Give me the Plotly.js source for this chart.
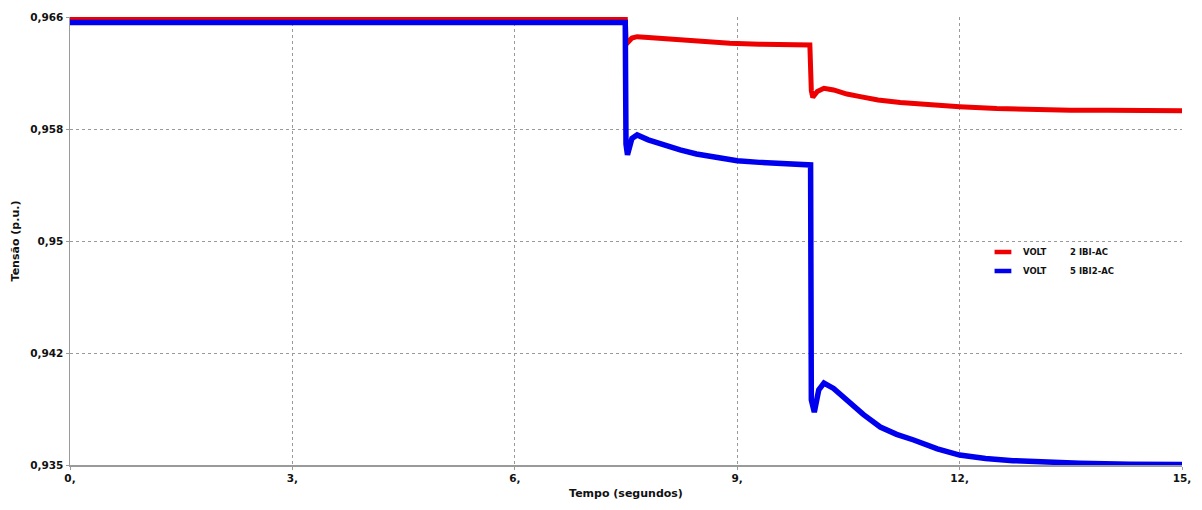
<!DOCTYPE html>
<html>
<head>
<meta charset="utf-8">
<script src="https://cdn.plot.ly/plotly-3.0.1.min.js"></script>
<style>html,body{margin:0;padding:0;background:#fff;}#chart{width:1202px;height:510px;}</style>
</head>
<body>
<div id="chart"></div>
<script>
// Time (s) and voltage (p.u.)
const redT = [0, 7.49, 7.5, 7.52, 7.58, 7.65, 7.8, 8.0, 8.23, 8.5, 8.9, 9.3, 9.7, 9.98, 10.0, 10.02, 10.08, 10.17, 10.3, 10.48, 10.66, 10.9, 11.2, 11.5, 12.0, 12.5, 13.08, 13.5, 14.0, 14.5, 15.0];
const redV = [0.96596, 0.96596, 0.96440, 0.96422, 0.96455, 0.96464, 0.96458, 0.96450, 0.96441, 0.96430, 0.96418, 0.96412, 0.96408, 0.96406, 0.96090, 0.96044, 0.96085, 0.96107, 0.96095, 0.96067, 0.96049, 0.96026, 0.96008, 0.95995, 0.95979, 0.95966, 0.95958, 0.95955, 0.95954, 0.95953, 0.95952];
const blueT = [0, 7.49, 7.5, 7.52, 7.58, 7.65, 7.8, 8.0, 8.23, 8.45, 8.68, 9.0, 9.3, 9.58, 9.99, 10.0, 10.04, 10.1, 10.17, 10.3, 10.48, 10.7, 10.93, 11.15, 11.38, 11.7, 12.0, 12.35, 12.72, 13.2, 13.62, 14.3, 15.0];
const blueV = [0.96562, 0.96562, 0.95720, 0.95646, 0.95760, 0.95784, 0.95750, 0.95715, 0.95680, 0.95652, 0.95631, 0.95605, 0.95594, 0.95588, 0.95576, 0.93950, 0.93866, 0.94020, 0.94067, 0.94030, 0.93950, 0.93850, 0.93763, 0.93712, 0.93673, 0.93612, 0.93569, 0.93545, 0.93530, 0.93518, 0.93512, 0.93506, 0.93503];
const redName = "VOLT\u00a0\u00a0\u00a0\u00a0\u00a0\u00a0\u00a0\u00a02 IBI-AC";
const blueName = "VOLT\u00a0\u00a0\u00a0\u00a0\u00a0\u00a0\u00a0\u00a05 IBI2-AC";
const redColor = '#ee0000';
const blueColor = '#0000ee';
const xTickVals = [0, 3, 6, 9, 12, 15];
const xTickText = ["0,", "3,", "6,", "9,", "12,", "15,"];
const yTickVals = [0.935, 0.94275, 0.9505, 0.95825, 0.966];
const yTickText = ["0,935", "0,942", "0,95", "0,958", "0,966"];

const fam = 'DejaVu Sans, sans-serif';
function f(size) { return {family: fam, size: size, color: '#111', weight: 'bold'}; }

const traces = [
  {x: redT, y: redV, name: redName, type: 'scatter', mode: 'lines', showlegend: false,
   line: {color: redColor, width: 5}},
  {x: blueT, y: blueV, name: blueName, type: 'scatter', mode: 'lines', showlegend: false,
   line: {color: blueColor, width: 5.5}},
  // legend-only entries (short line symbol like the reference)
  {x: [null], y: [null], name: redName, type: 'scatter', mode: 'markers', showlegend: true,
   marker: {symbol: 'line-ew', size: 12, color: redColor, line: {color: redColor, width: 4.5}}},
  {x: [null], y: [null], name: blueName, type: 'scatter', mode: 'markers', showlegend: true,
   marker: {symbol: 'line-ew', size: 12, color: blueColor, line: {color: blueColor, width: 4.5}}}
];

const layout = {
  width: 1202, height: 510,
  margin: {l: 70, r: 20, t: 17, b: 45},
  paper_bgcolor: '#fff', plot_bgcolor: '#fff',
  showlegend: true,
  legend: {x: 0.821, y: 0.508, xanchor: 'left', yanchor: 'top', bgcolor: 'rgba(0,0,0,0)',
           font: f(8.5), tracegroupgap: 0},
  xaxis: {
    range: [0, 15], tickvals: xTickVals, ticktext: xTickText,
    showgrid: true, gridcolor: '#9a9a9a', griddash: 'dot', gridwidth: 1,
    showline: true, linecolor: '#9a9a9a', linewidth: 1.5,
    ticks: 'outside', ticklen: 3, tickcolor: '#9a9a9a',
    zeroline: false, tickfont: f(10.5),
    title: {text: 'Tempo (segundos)', font: f(11), standoff: 6}
  },
  yaxis: {
    range: [0.935, 0.966], tickvals: yTickVals, ticktext: yTickText,
    showgrid: true, gridcolor: '#9a9a9a', griddash: 'dot', gridwidth: 1,
    showline: true, linecolor: '#9a9a9a', linewidth: 1.5,
    ticks: 'outside', ticklen: 3, tickcolor: '#9a9a9a',
    zeroline: false, tickfont: f(10.5),
    title: {text: 'Tensão (p.u.)', font: f(11), standoff: 8}
  }
};

Plotly.newPlot('chart', traces, layout, {displayModeBar: false, staticPlot: true});
</script>
</body>
</html>
